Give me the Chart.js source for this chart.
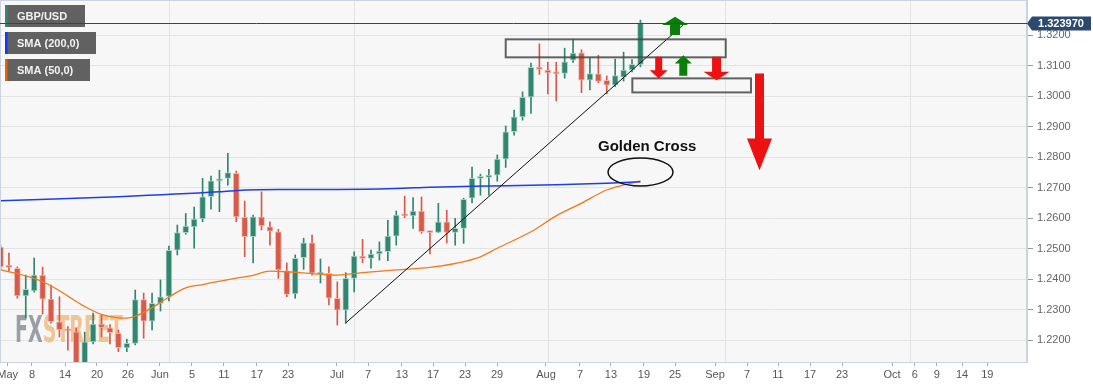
<!DOCTYPE html>
<html>
<head>
<meta charset="utf-8">
<script src="https://cdn.jsdelivr.net/npm/chart.js@4.4.1/dist/chart.umd.min.js"></script>
<style>
  html, body { margin: 0; padding: 0; background: #fff; }
  #wrap { width: 1093px; height: 387px; }
</style>
</head>
<body>
<div id="wrap"><canvas id="chart"></canvas></div>
<script>
// GBP/USD daily candles, 4 May -> 18 Aug (trading-day index 0..76)
const opens = [1.2505,1.2446,1.2435,1.2345,1.2361,1.2413,1.2334,1.2260,1.2233,1.2227,
  1.2125,1.2194,1.2252,1.2240,1.2222,1.2174,1.2189,1.2333,1.2262,1.2320,
  1.2343,1.2495,1.2552,1.2571,1.2597,1.2670,1.2722,1.2730,1.2747,1.2602,
  1.2539,1.2604,1.2571,1.2555,1.2427,1.2351,1.2470,1.2519,1.2416,1.2419,
  1.2337,1.2298,1.2402,1.2475,1.2468,1.2482,1.2490,1.2541,1.2610,1.2607,
  1.2623,1.2555,1.2553,1.2588,1.2553,1.2566,1.2665,1.2730,1.2733,1.2741,
  1.2793,1.2883,1.2932,1.2996,1.3095,1.3085,1.3079,1.3074,1.3118,1.3142,
  1.3052,1.3073,1.3052,1.3036,1.3062,1.3086,1.3104];
const highs = [1.2512,1.2485,1.2440,1.2413,1.2469,1.2439,1.2380,1.2342,1.2244,1.2239,
  1.2226,1.2288,1.2282,1.2251,1.2233,1.2203,1.2364,1.2354,1.2354,1.2397,
  1.2508,1.2577,1.2615,1.2636,1.2730,1.2738,1.2757,1.2812,1.2754,1.2656,
  1.2610,1.2686,1.2588,1.2563,1.2453,1.2479,1.2534,1.2544,1.2466,1.2440,
  1.2391,1.2421,1.2489,1.2530,1.2495,1.2522,1.2593,1.2623,1.2672,1.2667,
  1.2669,1.2557,1.2648,1.2626,1.2599,1.2665,1.2767,1.2744,1.2760,1.2807,
  1.2902,1.2954,1.3014,1.3108,1.3171,1.3111,1.3111,1.3157,1.3185,1.3152,
  1.3125,1.3134,1.3066,1.3121,1.3144,1.3120,1.3249];
const lows = [1.2428,1.2426,1.2337,1.2272,1.2357,1.2285,1.2255,1.2210,1.2167,1.2076,
  1.2110,1.2187,1.2210,1.2187,1.2162,1.2162,1.2184,1.2206,1.2233,1.2295,
  1.2328,1.2479,1.2547,1.2501,1.2588,1.2629,1.2621,1.2708,1.2588,1.2473,
  1.2453,1.2561,1.2511,1.2402,1.2342,1.2337,1.2432,1.2413,1.2387,1.2315,
  1.2249,1.2255,1.2358,1.2453,1.2436,1.2462,1.2460,1.2511,1.2601,1.2566,
  1.2550,1.2482,1.2552,1.2518,1.2511,1.2517,1.2650,1.2675,1.2675,1.2721,
  1.2766,1.2872,1.2921,1.2943,1.3071,1.3007,1.2984,1.3059,1.3110,1.3011,
  1.3020,1.3043,1.3007,1.3031,1.3049,1.3079,1.3096];
const closes = [1.2440,1.2438,1.2345,1.2366,1.2413,1.2334,1.2260,1.2233,1.2230,1.2120,
  1.2194,1.2252,1.2241,1.2224,1.2175,1.2189,1.2333,1.2262,1.2320,1.2342,
  1.2494,1.2552,1.2574,1.2597,1.2670,1.2722,1.2728,1.2749,1.2604,1.2539,
  1.2604,1.2574,1.2557,1.2430,1.2350,1.2468,1.2519,1.2419,1.2421,1.2337,
  1.2298,1.2402,1.2475,1.2468,1.2482,1.2492,1.2541,1.2610,1.2607,1.2623,
  1.2555,1.2552,1.2588,1.2553,1.2566,1.2661,1.2730,1.2735,1.2741,1.2793,
  1.2883,1.2932,1.2996,1.3094,1.3087,1.3076,1.3073,1.3112,1.3141,1.3052,
  1.3074,1.3048,1.3036,1.3067,1.3085,1.3104,1.3240];

// moving averages: [trading-day index, value]
const sma200 = [[0,1.2657],[14,1.2670],[26,1.2686],[29,1.2692],[33,1.2694],[40,1.2694],
  [47,1.2697],[51,1.2701],[56,1.2704],[66,1.2709],[72,1.2714],[76,1.2719]];
const sma50 = [[0,1.2430],[2,1.2418],[4,1.2402],[6,1.2378],[8,1.2344],[10,1.2310],
  [12,1.2284],[14,1.2273],[15,1.2272],[16,1.2278],[18,1.2306],[20,1.2341],[22,1.2371],
  [24,1.2382],[28,1.2403],[30,1.2412],[32,1.2426],[34,1.2424],[38,1.2416],[40,1.2413],
  [43,1.2421],[47,1.2430],[51,1.2438],[54,1.2451],[57,1.2473],[59,1.2501],[63,1.2555],
  [66,1.2607],[69,1.2649],[72,1.2692],[76,1.2722]];

const lastPrice = 1.323970;
const yTicks = [1.22,1.23,1.24,1.25,1.26,1.27,1.28,1.29,1.30,1.31,1.32];
const xTickLabels = ['May','8','14','20','26','Jun','5','11','17','23','Jul','7','13','17','23','29',
  'Aug','7','13','19','25','Sep','7','11','17','23','Oct','6','9','14','19'];
const xTickPos = [0.85,3.74,7.66,11.46,15.14,18.94,22.74,26.54,30.46,34.15,39.96,43.65,47.68,51.37,55.17,58.97,
  64.78,68.82,72.5,76.42,80.11,84.86,88.66,92.34,96.14,99.94,105.88,108.6,111.2,114.2,117.2];
const monthStarts = [20,42,65,86,108];

// drawings on the chart, in data coordinates
const trendLine = [[41.0,1.2256],[81.06,1.3233]];
const boxes = [[60.0,1.3186,86.13,1.3127],[75.04,1.3058,89.13,1.3012]];
// x, tail, head base, tip, head half width, shaft half width, colour
const arrows = [
  [80.11,1.3200,1.3233,1.3260,13,5,'#0b7d0b'],
  [81.09,1.3067,1.3107,1.3134,8.5,4,'#0b7d0b'],
  [78.17,1.3129,1.3085,1.3058,9,3.5,'#ee1111'],
  [85.04,1.3129,1.3080,1.3052,13,4.5,'#ee1111'],
  [90.14,1.3074,1.2861,1.2757,12.5,4.5,'#ee1111']
];
const crossLabel = [76.8,1.2833];
const crossRing = [76.01,1.2751];

const GREEN = '#30866e', RED = '#d85a48';
const up = opens.map((o, i) => closes[i] >= o);
const idx = opens.map((o, i) => i);

const wickData = idx.map(i => ({x: i, y: [lows[i], highs[i]]}));
const bodyData = idx.map(i => ({x: i, y: [opens[i], closes[i]]}));

const decor = {
  id: 'decor',
  beforeDraw(c) {
    const ctx = c.ctx, a = c.chartArea;
    ctx.save();
    ctx.fillStyle = '#ffffff';
    ctx.fillRect(0, 0, c.width, c.height);
    ctx.fillStyle = '#f7f7f7';
    ctx.fillRect(a.left, a.top, a.right - a.left, a.bottom - a.top);
    ctx.restore();
  },
  beforeDatasetsDraw(c) {
    const ctx = c.ctx, a = c.chartArea, xs = c.scales.x;
    ctx.save();
    ctx.strokeStyle = '#e3e3e3';
    ctx.lineWidth = 1;
    monthStarts.forEach(m => {
      const x = Math.round(xs.getPixelForValue(m)) + 0.5;
      ctx.beginPath(); ctx.moveTo(x, a.top); ctx.lineTo(x, a.bottom); ctx.stroke();
    });
    // watermark
    ctx.font = 'bold 37px "Liberation Sans Narrow", "DejaVu Sans Condensed", sans-serif';
    ctx.textBaseline = 'alphabetic';
    const w1 = ctx.measureText('FX').width, w2 = ctx.measureText('STREET').width;
    const k = 108 / (w1 + w2);
    ctx.translate(15, 342);
    ctx.scale(k, 1);
    ctx.fillStyle = 'rgba(150,153,160,0.95)';
    ctx.fillText('FX', 0, 0);
    ctx.fillStyle = 'rgba(240,190,135,0.9)';
    ctx.fillText('STREET', w1, 0);
    ctx.restore();
  },
  afterDatasetsDraw(c) {
    const ctx = c.ctx, xs = c.scales.x, ys = c.scales.y, a = c.chartArea;
    const X = v => xs.getPixelForValue(v), Y = v => ys.getPixelForValue(v);
    ctx.save();
    ctx.beginPath(); ctx.rect(a.left, a.top, a.right - a.left, a.bottom - a.top); ctx.clip();

    // trend line
    ctx.strokeStyle = '#111';
    ctx.lineWidth = 1;
    ctx.beginPath();
    ctx.moveTo(X(trendLine[0][0]), Y(trendLine[0][1]));
    ctx.lineTo(X(trendLine[1][0]), Y(trendLine[1][1]));
    ctx.stroke();

    // boxes
    ctx.strokeStyle = 'rgba(70,70,70,0.85)';
    ctx.lineWidth = 2;
    boxes.forEach(b => {
      ctx.strokeRect(X(b[0]), Y(b[1]), X(b[2]) - X(b[0]), Y(b[3]) - Y(b[1]));
    });

    // arrows
    arrows.forEach(([x, tail, base, tip, hw, sw, col]) => {
      const px = X(x), t = Y(tail), b = Y(base), p = Y(tip);
      ctx.fillStyle = col;
      ctx.beginPath();
      ctx.moveTo(px - sw, t); ctx.lineTo(px - sw, b); ctx.lineTo(px - hw, b);
      ctx.lineTo(px, p); ctx.lineTo(px + hw, b); ctx.lineTo(px + sw, b);
      ctx.lineTo(px + sw, t); ctx.closePath();
      ctx.fill();
    });

    // golden cross
    ctx.fillStyle = '#111';
    ctx.font = 'bold 15px "Liberation Sans", Arial, sans-serif';
    ctx.textAlign = 'center';
    ctx.textBaseline = 'middle';
    ctx.fillText('Golden Cross', X(crossLabel[0]), Y(crossLabel[1]));
    ctx.strokeStyle = '#111';
    ctx.lineWidth = 1.5;
    ctx.beginPath();
    ctx.ellipse(X(crossRing[0]), Y(crossRing[1]), 32.5, 14, 0, 0, Math.PI * 2);
    ctx.stroke();
    ctx.restore();
  },
  afterDraw(c) {
    const ctx = c.ctx, a = c.chartArea, ys = c.scales.y;
    ctx.save();
    // frame
    ctx.strokeStyle = '#cbd3e1';
    ctx.lineWidth = 1;
    ctx.strokeRect(a.left + 0.5, a.top + 0.5, a.right - a.left - 1, a.bottom - a.top);

    // legend tags
    const tags = [['GBP/USD', '#2f8a78', 5, 80], ['SMA (200,0)', '#1335ff', 32, 91], ['SMA (50,0)', '#e85f0c', 59, 85]];
    ctx.font = 'bold 11px "Liberation Sans", Arial, sans-serif';
    ctx.textBaseline = 'middle';
    tags.forEach(([t, col, y, w]) => {
      ctx.fillStyle = 'rgba(88,88,88,0.95)';
      ctx.fillRect(5, y, w, 22);
      ctx.fillStyle = col;
      ctx.fillRect(5, y, 2.5, 22);
      ctx.fillStyle = '#f2f2f2';
      ctx.fillText(t, 17, y + 11.5);
    });
    // last price line, drawn over the first tag
    const ly = Math.round(ys.getPixelForValue(lastPrice)) + 0.5;
    ctx.strokeStyle = '#2e4566';
    ctx.beginPath(); ctx.moveTo(a.left, ly); ctx.lineTo(a.right, ly); ctx.stroke();

    // last price label
    const x0 = a.right + 2;
    ctx.fillStyle = '#2c4a6e';
    ctx.beginPath();
    ctx.moveTo(x0 - 2, ly);
    ctx.lineTo(x0 + 3, ly - 7);
    ctx.lineTo(x0 + 62, ly - 7);
    ctx.lineTo(x0 + 62, ly + 7);
    ctx.lineTo(x0 + 3, ly + 7);
    ctx.closePath();
    ctx.fill();
    ctx.fillStyle = '#fff';
    ctx.textAlign = 'center';
    ctx.fillText(lastPrice.toFixed(6), x0 + 32, ly + 0.5);
    ctx.restore();
  }
};

new Chart(document.getElementById('chart'), {
  type: 'bar',
  data: {
    datasets: [
      {
        type: 'line', label: 'SMA (200,0)', order: 0,
        data: sma200.map(p => ({x: p[0], y: p[1]})),
        borderColor: '#1f3ee6', borderWidth: 1.5, pointRadius: 0,
        tension: 0.4, cubicInterpolationMode: 'monotone'
      },
      {
        type: 'line', label: 'SMA (50,0)', order: 0,
        data: sma50.map(p => ({x: p[0], y: p[1]})),
        borderColor: '#f07a1c', borderWidth: 1.3, pointRadius: 0,
        tension: 0.4, cubicInterpolationMode: 'monotone'
      },
      {
        label: 'body', order: 1, grouped: false,
        data: bodyData,
        backgroundColor: up.map(u => u ? GREEN : RED),
        borderColor: up.map(u => u ? 'rgba(170,210,198,0.9)' : 'rgba(240,180,170,0.9)'),
        borderWidth: 1, borderSkipped: false,
        barThickness: 6, minBarLength: 2
      },
      {
        label: 'wick', order: 2, grouped: false,
        data: wickData,
        backgroundColor: up.map(u => u ? GREEN : RED),
        barThickness: 1
      }
    ]
  },
  options: {
    responsive: true,
    maintainAspectRatio: false,
    animation: false,
    layout: { padding: 0, autoPadding: false },
    plugins: { legend: { display: false }, tooltip: { enabled: false } },
    scales: {
      x: {
        type: 'linear', min: -0.06, max: 121.91, offset: false,
        afterBuildTicks: s => { s.ticks = xTickPos.map(v => ({value: v})); },
        afterFit: s => { s.height = 25; s.paddingLeft = 0; s.paddingRight = 0; },
        grid: { drawOnChartArea: false, offset: false, tickLength: 4, color: '#aaa' },
        border: { color: '#cbd3e1' },
        ticks: {
          autoSkip: false, maxRotation: 0, minRotation: 0, padding: 2,
          color: '#555', font: { family: '"Liberation Sans", Arial, sans-serif', size: 11 },
          callback: (v, i) => xTickLabels[i]
        }
      },
      y: {
        type: 'linear', position: 'right', min: 1.2128, max: 1.3315,
        afterBuildTicks: s => { s.ticks = yTicks.map(v => ({value: v})); },
        afterFit: s => { s.width = 66; s.paddingTop = 0; s.paddingBottom = 0; },
        grid: { color: '#e3e3e3', tickColor: '#999', tickLength: 6 },
        border: { color: '#cbd3e1' },
        ticks: {
          padding: 4, color: '#666',
          font: { family: '"Liberation Sans", Arial, sans-serif', size: 11 },
          callback: v => v.toFixed(4)
        }
      }
    }
  },
  plugins: [decor]
});
</script>
</body>
</html>
